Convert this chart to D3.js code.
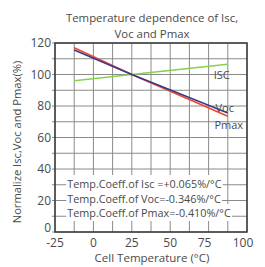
<!DOCTYPE html>
<html><head><meta charset="utf-8">
<script src="https://cdn.jsdelivr.net/npm/d3@7"></script>
<style>body{margin:0;background:#fff}svg{display:block}text{font-family:"Open Sans",sans-serif;fill:#4a4a4a}</style>
</head><body>
<script>
const xTicks = [-25, 0, 25, 50, 75, 100];
const yTicks = [0, 20, 40, 60, 80, 100, 120];
const temps = [-12.5, 25, 87.5];
const isc = [96, 100, 106.5];
const voc = [115.5, 100, 75.5];
const pmax = [117, 100, 73.5];
const seriesNames = ["ISC", "Voc", "Pmax"];
const seriesColors = ["#86d14e", "#3b3a8a", "#ea4a2e"];
const notes = ["Temp.Coeff.of Isc =+0.065%/°C", "Temp.Coeff.of Voc=-0.346%/°C", "Temp.Coeff.of Pmax=-0.410%/°C"];
const title = ["Temperature dependence of Isc,", "Voc and Pmax"];

const W = 265, H = 267;
const m = {l: 55, r: 18, t: 43, b: 35};
const svg = d3.select("body").append("svg").attr("width", W).attr("height", H);
const x = d3.scaleLinear().domain([-25, 100]).range([m.l, W - m.r]);
const y = d3.scaleLinear().domain([0, 120]).range([H - m.b, m.t]);

// grid
const g = svg.append("g");
g.selectAll("line.v").data(d3.range(-25, 100.01, 12.5)).join("line")
  .attr("x1", d => x(d)).attr("x2", d => x(d)).attr("y1", y(0)).attr("y2", y(120))
  .attr("stroke", "#8a8a8a").attr("stroke-width", 1);
g.selectAll("line.h").data(d3.range(0, 120.01, 10)).join("line")
  .attr("x1", x(-25) - 3).attr("x2", x(100)).attr("y1", d => y(d)).attr("y2", d => y(d))
  .attr("stroke", "#8a8a8a").attr("stroke-width", 1);

// notes with white background
const ng = svg.append("g");
notes.forEach((t, i) => {
  const tx = ng.append("text").attr("x", x(-17)).attr("y", 188 + i * 14.5)
    .attr("font-size", 10.8).text(t);
  const bb = tx.node().getBBox();
  ng.insert("rect", "text").attr("x", bb.x - 1).attr("y", bb.y - 1)
    .attr("width", bb.width + 2).attr("height", bb.height + 2).attr("fill", "#fff");
});

// frame
svg.append("rect").attr("x", x(-25)).attr("y", y(120))
  .attr("width", x(100) - x(-25)).attr("height", y(0) - y(120))
  .attr("fill", "none").attr("stroke", "#3a3a3a").attr("stroke-width", 1.5);

// series
const line = d3.line().x((d, i) => x(temps[i])).y(d => y(d));
[isc, pmax, voc].forEach((s) => {
  const idx = s === isc ? 0 : s === voc ? 1 : 2;
  svg.append("path").datum(s).attr("d", line).attr("fill", "none")
    .attr("stroke", seriesColors[idx]).attr("stroke-width", 1.6);
});

// series labels
svg.append("text").attr("x", x(87.5) - 6).attr("y", y(isc[2]) + 15).attr("text-anchor", "middle")
  .attr("font-size", 11).text(seriesNames[0]);
svg.append("text").attr("x", x(87.5) - 3).attr("y", y(voc[2]) - 1).attr("text-anchor", "middle")
  .attr("font-size", 11).text(seriesNames[1]);
svg.append("text").attr("x", x(87.5) + 1).attr("y", y(pmax[2]) + 13).attr("text-anchor", "middle")
  .attr("font-size", 11).text(seriesNames[2]);

// axes labels
svg.selectAll("text.yt").data(yTicks).join("text")
  .attr("x", x(-25) - 4).attr("y", d => y(d) - (d === 0 ? 4 : 0)).attr("dy", "0.35em")
  .attr("text-anchor", "end").attr("font-size", 12).text(d => d);
svg.selectAll("text.xt").data(xTicks).join("text")
  .attr("x", d => x(d) - (d > 50 ? 4 : 0)).attr("y", y(0) + 15)
  .attr("text-anchor", "middle").attr("font-size", 12).text(d => d);

svg.append("text").attr("x", 152).attr("y", 262).attr("text-anchor", "middle")
  .attr("font-size", 11.5).text("Cell Temperature (°C)");
svg.append("text").attr("transform", "translate(21,142) rotate(-90)").attr("text-anchor", "middle")
  .attr("font-size", 11.2).text("Normalize Isc,Voc and Pmax(%)");
title.forEach((t, i) => svg.append("text").attr("x", 152).attr("y", 22 + i * 15.5)
  .attr("text-anchor", "middle").attr("font-size", 11.4).text(t));
</script>
</body></html>
